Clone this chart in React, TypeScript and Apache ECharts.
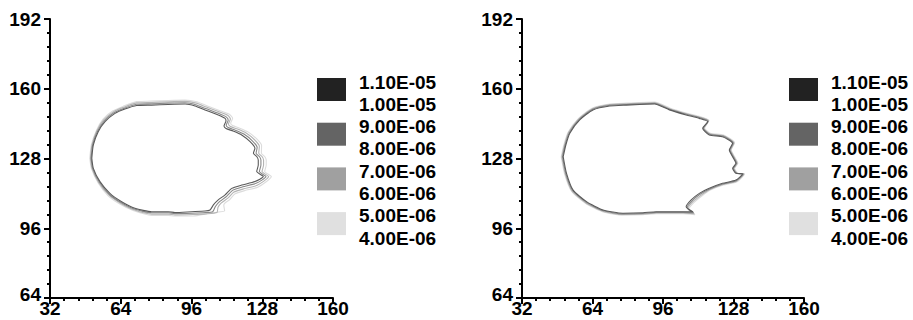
import React, { useEffect, useRef } from "react";
import * as echarts from "echarts";

// Axis ranges
const xRange = [32, 160];
const yRange = [64, 192];
const tickStep = 32;

// Contour level labels (legend) and band colours
const levelLabels = [
  "1.10E-05", "1.00E-05", "9.00E-06", "8.00E-06",
  "7.00E-06", "6.00E-06", "5.00E-06", "4.00E-06",
];
const bandColors = ["#222222", "#646464", "#a0a0a0", "#e0e0e0"];
const lineColors = ["#dcdcdc", "#b4b4b4", "#888888", "#5a5a5a"];

// ---- Left panel contours (inner = highest level) ----
const leftC1 = [
  [50.9,128.1],[51.6,134.2],[53.8,140.3],[56.9,144.9],[61.4,148.7],[65.9,150.7],[71.2,152.3],[78.0,152.5],
  [85.5,152.8],[93.1,153.0],[97.6,152.1],[102.1,150.3],[108.1,148.0],[111.2,146.4],[111.6,145.2],[110.7,142.9],
  [111.6,141.8],[114.8,140.6],[118.7,138.8],[122.5,135.7],[124.7,132.7],[124.0,130.4],[125.5,128.9],[126.2,127.3],
  [126.2,125.0],[125.5,122.0],[128.5,119.7],[124.7,117.4],[118.7,115.8],[114.2,114.3],[111.2,111.3],[108.1,109.0],
  [105.9,106.7],[104.4,104.4],[102.1,103.9],[96.1,103.6],[88.5,103.2],[85.5,103.6],[78.0,103.6],[70.4,105.2],
  [64.4,108.2],[59.1,112.0],[54.6,117.4],[51.6,123.5],[50.9,128.1],
];
const leftC2 = [
  [50.6,128.1],[51.3,134.2],[53.5,140.5],[56.6,145.3],[61.1,149.1],[65.6,151.1],[71.2,152.9],[78.0,153.1],
  [85.5,153.4],[93.1,153.6],[97.9,152.7],[102.4,150.9],[108.4,148.6],[111.8,147.0],[112.6,145.6],[111.7,143.3],
  [112.6,142.2],[115.8,141.0],[119.7,139.2],[123.5,136.1],[125.7,133.1],[125.2,130.4],[126.7,128.9],[127.4,127.3],
  [127.4,125.0],[126.7,122.0],[129.7,119.7],[125.2,116.6],[119.2,115.0],[114.7,113.5],[111.9,110.6],[108.8,108.3],
  [106.8,106.0],[105.6,103.6],[102.3,103.2],[96.3,102.9],[88.5,102.7],[85.5,103.1],[78.0,103.1],[70.1,104.8],
  [64.1,107.8],[58.8,111.6],[54.3,117.2],[51.3,123.5],[50.6,128.1],
];
const leftC3 = [
  [50.3,128.1],[51.0,134.2],[53.2,140.7],[56.3,145.7],[60.8,149.5],[65.3,151.5],[71.2,153.5],[78.0,153.7],
  [85.5,154.0],[93.1,154.2],[98.2,153.4],[102.7,151.6],[108.7,149.3],[112.5,147.7],[113.6,146.1],[112.7,143.8],
  [113.6,142.7],[116.8,141.5],[120.7,139.7],[124.5,136.6],[126.7,133.6],[126.4,130.4],[127.9,128.9],[128.6,127.3],
  [128.6,125.0],[127.9,122.0],[130.9,119.7],[125.7,115.7],[119.7,114.1],[115.2,112.6],[112.6,109.9],[109.5,107.6],
  [108.0,105.6],[107.5,103.2],[102.5,102.6],[96.5,102.3],[88.5,102.1],[85.5,102.5],[78.0,102.5],[69.9,104.5],
  [63.9,107.5],[58.6,111.3],[54.0,117.0],[51.0,123.5],[50.3,128.1],
];
const leftC4 = [
  [50.0,128.1],[50.7,134.2],[53.0,140.9],[56.0,146.1],[60.5,149.9],[65.0,151.9],[71.2,154.1],[78.0,154.3],
  [85.5,154.6],[93.1,154.8],[98.4,154.0],[102.9,152.2],[108.9,149.9],[113.1,148.3],[114.6,146.5],[113.7,144.2],
  [114.6,143.1],[117.8,141.9],[121.7,140.1],[125.5,137.0],[127.7,134.0],[127.6,130.4],[129.1,128.9],[129.8,127.3],
  [129.8,125.0],[129.1,122.0],[132.1,119.7],[126.2,114.9],[120.2,113.3],[115.7,111.8],[113.3,109.2],[111.0,107.4],
  [110.6,106.5],[111.0,104.0],[104.0,102.9],[96.7,101.6],[88.5,101.6],[85.5,101.9],[78.0,101.9],[69.6,104.1],
  [63.6,107.1],[58.3,110.9],[53.8,116.8],[50.7,123.5],[50.0,128.1],
];

// ---- Right panel contours ----
const rightC1 = [
  [50.7,128.8],[51.9,134.2],[53.7,139.6],[58.2,145.7],[64.2,150.3],[71.8,152.1],[79.4,152.5],[92.2,153.0],
  [98.9,150.3],[106.5,148.0],[112.5,146.4],[116.3,144.9],[114.0,141.9],[117.0,138.8],[123.0,138.0],[127.6,135.0],
  [126.1,131.9],[127.6,128.8],[129.1,125.8],[127.6,123.5],[129.1,121.2],[132.1,120.9],[129.1,118.1],[123.0,116.6],
  [117.0,114.3],[112.5,112.0],[108.8,109.0],[106.5,105.9],[109.5,103.6],[105.0,103.6],[92.9,103.6],[86.9,103.1],
  [77.8,102.9],[68.8,104.4],[61.3,108.2],[55.2,113.5],[52.2,121.2],[50.7,128.8],
];
const rightC2 = [
  [50.4,128.8],[51.6,134.2],[53.5,139.8],[58.0,145.9],[64.1,150.6],[71.8,152.4],[79.4,152.8],[92.2,153.3],
  [99.0,150.6],[106.6,148.3],[112.7,146.7],[116.5,145.1],[114.3,141.9],[117.2,139.1],[123.2,138.3],[127.9,135.1],
  [126.4,131.9],[127.9,128.8],[129.4,125.8],[127.9,123.5],[129.4,121.2],[132.4,120.9],[129.2,117.8],[123.1,116.3],
  [117.2,114.0],[112.8,111.6],[109.2,108.6],[106.9,105.5],[109.8,103.1],[105.0,103.3],[92.9,103.3],[86.9,102.8],
  [77.8,102.6],[68.7,104.1],[61.1,108.0],[55.0,113.3],[51.9,121.1],[50.4,128.8],
];
const rightC3 = [
  [50.1,128.8],[51.3,134.2],[53.2,140.0],[57.8,146.2],[64.0,150.8],[71.8,152.7],[79.4,153.1],[92.2,153.6],
  [99.1,150.8],[106.7,148.5],[112.8,146.9],[116.7,145.3],[114.6,141.9],[117.3,139.3],[123.3,138.5],[128.2,135.1],
  [126.7,131.9],[128.2,128.8],[129.7,125.8],[128.2,123.5],[129.7,121.2],[132.7,120.9],[129.4,117.6],[123.2,116.1],
  [117.3,113.8],[113.2,111.1],[109.6,108.2],[107.3,105.1],[110.1,102.7],[105.0,103.0],[92.9,103.0],[86.9,102.5],
  [77.8,102.3],[68.6,103.8],[60.9,107.7],[54.7,113.1],[51.6,121.1],[50.1,128.8],
];
const rightC4 = [
  [49.8,128.8],[51.0,134.2],[53.0,140.1],[57.7,146.4],[63.8,151.1],[71.8,153.0],[79.4,153.4],[92.2,153.9],
  [99.3,151.1],[106.9,148.8],[113.0,147.2],[116.9,145.5],[114.9,141.9],[117.5,139.6],[123.5,138.8],[128.5,135.2],
  [127.0,131.9],[128.5,128.8],[130.0,125.8],[128.5,123.5],[130.0,121.2],[133.0,120.9],[129.6,117.3],[123.4,115.8],
  [117.5,113.5],[113.5,110.7],[110.0,107.8],[107.7,104.7],[110.4,102.2],[105.0,102.7],[92.9,102.7],[86.9,102.2],
  [77.8,102.0],[68.5,103.6],[60.8,107.5],[54.5,113.0],[51.3,121.0],[49.8,128.8],
];

const leftContours = [leftC4, leftC3, leftC2, leftC1];
const rightContours = [rightC4, rightC3, rightC2, rightC1];

const FONT = "'Liberation Sans', Arial, Helvetica, sans-serif";

function makeAxes(idx: number, left: number, width: number) {
  const common = {
    gridIndex: idx,
    type: "value" as const,
    interval: tickStep,
    splitLine: { show: false },
    axisLine: { show: true, onZero: false, lineStyle: { color: "#000", width: 2 } },
    axisTick: { show: true, inside: false, length: 6, lineStyle: { color: "#000", width: 2 } },
    minorTick: { show: true, splitNumber: 5, length: 3, lineStyle: { color: "#000", width: 2 } },
    minorSplitLine: { show: false },
  };
  return {
    grid: { left, top: 19, width, height: 279, containLabel: false },
    x: {
      ...common,
      min: xRange[0],
      max: xRange[1],
      axisLabel: { color: "#000", fontSize: 19, fontWeight: "bold", fontFamily: FONT, margin: 1 },
    },
    y: {
      ...common,
      min: yRange[0],
      max: yRange[1],
      axisLabel: {
        color: "#000",
        fontSize: 19,
        fontWeight: "bold",
        fontFamily: FONT,
        margin: 9,
        formatter: (v: number) => (v === yRange[0] ? "{low|" + v + "}" : "" + v),
        rich: { low: { fontSize: 19, fontWeight: "bold", fontFamily: FONT, color: "#000", padding: [0, 0, 8, 0] } },
      },
    },
  };
}

function legendGraphics(bx: number) {
  const els: any[] = [];
  bandColors.forEach((c, i) => {
    els.push({
      type: "rect",
      shape: { x: bx, y: 78 + i * 44.7, width: 29, height: 23 },
      style: { fill: c },
    });
  });
  levelLabels.forEach((t, j) => {
    els.push({
      type: "text",
      x: bx + 42,
      y: 82 + j * 22.3,
      style: {
        text: t,
        fill: "#000",
        font: "bold 19px " + FONT,
        verticalAlign: "middle",
        align: "left",
      },
    });
  });
  return els;
}

export default function App() {
  const ref = useRef<HTMLDivElement>(null);
  useEffect(() => {
    if (!ref.current) return;
    const chart = echarts.init(ref.current, undefined, { renderer: "svg" });
    const a = makeAxes(0, 50, 283);
    const b = makeAxes(1, 522, 282);
    const series: any[] = [];
    [leftContours, rightContours].forEach((set, p) => {
      set.forEach((pts, k) => {
        series.push({
          type: "line",
          xAxisIndex: p,
          yAxisIndex: p,
          data: pts,
          showSymbol: false,
          symbol: "none",
          smooth: 0.2,
          silent: true,
          lineStyle: { color: lineColors[k], width: 1.1, cap: "round", join: "round" },
          z: 2 + k,
        });
      });
    });
    chart.setOption({
      animation: false,
      backgroundColor: "#fff",
      grid: [a.grid, b.grid],
      xAxis: [a.x, b.x],
      yAxis: [a.y, b.y],
      series,
      graphic: [...legendGraphics(317), ...legendGraphics(789)],
    });
    return () => chart.dispose();
  }, []);
  return (
    <div
      ref={ref}
      style={{ position: "fixed", left: 0, top: 0, width: 913, height: 320, background: "#fff" }}
    />
  );
}
